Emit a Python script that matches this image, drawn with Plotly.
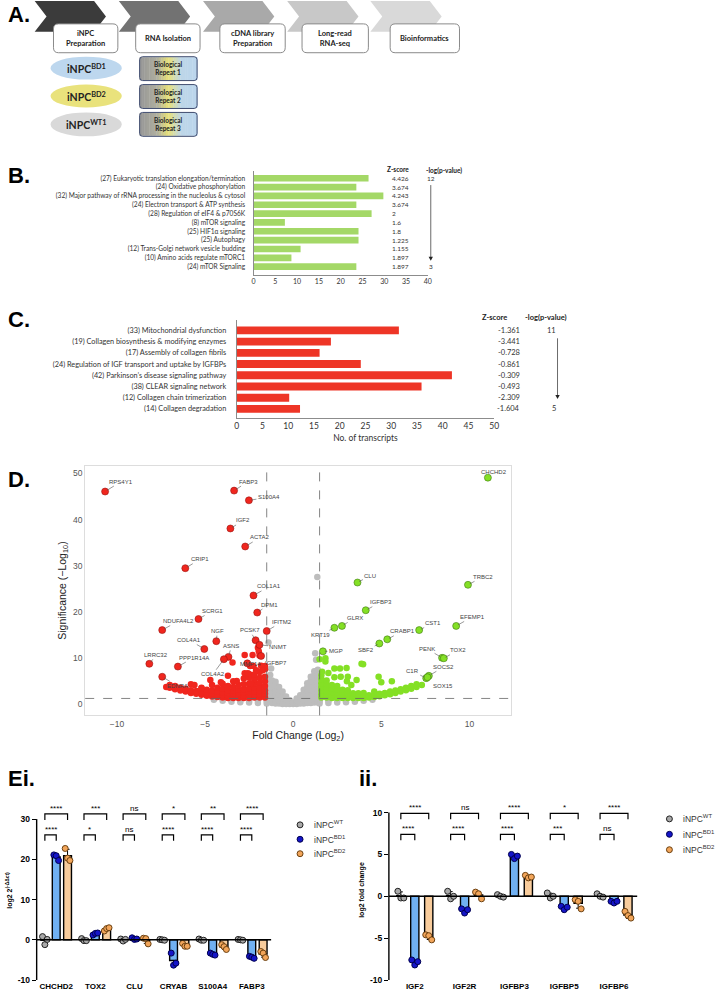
import plotly.graph_objects as go
import numpy as np

W, H = 717, 999
def px(x): return x / W
def py(y): return 1 - y / H

# ---------------- DATA ----------------
steps = ["iNPC<br>Preparation", "RNA Isolation", "cDNA library<br>Preparation", "Long-read<br>RNA-seq", "Bioinformatics"]
cell_lines = ["iNPC<sup>BD1</sup>", "iNPC<sup>BD2</sup>", "iNPC<sup>WT1</sup>"]
repeats = ["Biological<br>Repeat 1", "Biological<br>Repeat 2", "Biological<br>Repeat 3"]

b_labels = ["(27) Eukaryotic translation elongation/termination", "(24) Oxidative phosphorylation",
            "(32) Major pathway of rRNA processing in the nucleolus & cytosol", "(24) Electron transport & ATP synthesis",
            "(28) Regulation of eIF4 & p70S6K", "(8) mTOR signaling", "(25) HIF1α signaling", "(25) Autophagy",
            "(12) Trans-Golgi network vesicle budding", "(10) Amino acids regulate mTORC1", "(24) mTOR Signaling"]
b_counts = [26.4, 23.6, 29.8, 23.6, 27.1, 7.2, 24.1, 24.1, 10.8, 8.7, 23.6]
b_z = ["4.426", "3.674", "4.243", "3.674", "2", "1.6", "1.8", "1.225", "1.155", "1.897", "1.897"]
b_p = ["12", "3"]

c_labels = ["(33) Mitochondrial dysfunction", "(19) Collagen biosynthesis & modifying enzymes",
            "(17) Assembly of collagen fibrils", "(24) Regulation of IGF transport and uptake by IGFBPs",
            "(42) Parkinson’s disease signaling pathway", "(38) CLEAR signaling network",
            "(12) Collagen chain trimerization", "(14) Collagen degradation"]
c_counts = [31.5, 18.3, 16.1, 24.1, 41.8, 35.9, 10.2, 12.3]
c_z = ["-1.361", "-3.441", "-0.728", "-0.861", "-0.309", "-0.493", "-2.309", "-1.604"]
c_p = ["11", "5"]

# volcano: unlabeled points
grey_fc = [-4.5, -4.0, -4.0, -3.5, -3.5, -3.0, -3.0, -2.5, -2.5, -2.0, -2.0, -2.0, -1.5, -1.5, -1.5,
           -1.4, -1.4, -1.4, -1.4, -1.4, -1.4, -1.2, -1.2, -1.2, -1.2, -1.2, -1.2, -1.2,
           -1.0, -1.0, -1.0, -1.0, -1.0, -1.0, -1.0, -0.8, -0.8, -0.8, -0.8, -0.8, -0.8,
           -0.6, -0.6, -0.6, -0.6, -0.6, -0.4, -0.4, -0.4, -0.4, -0.2, -0.2, -0.2, 0.0, 0.0,
           0.2, 0.2, 0.2, 0.2, 0.4, 0.4, 0.4, 0.4, 0.6, 0.6, 0.6, 0.6, 0.6,
           0.8, 0.8, 0.8, 0.8, 0.8, 0.8, 1.0, 1.0, 1.0, 1.0, 1.0, 1.0, 1.0,
           1.2, 1.2, 1.2, 1.2, 1.2, 1.2, 1.2, 1.2, 1.4, 1.4, 1.4, 1.4, 1.4, 1.4, 1.4, 1.4,
           1.5, 1.5, 1.5, 2.0, 2.0, 2.0, 2.5, 2.5, 3.0, 3.0, 3.5, 3.5, 4.0, 4.0, 4.5,
           1.37, 1.25, -1.4, -1.25, 1.3, -1.3]
grey_sig = [1.0, 0.8, 1.2, 0.6, 1.1, 0.5, 1.0, 0.4, 0.9, 0.3, 0.8, 1.2, 0.2, 0.7, 1.1,
            1.6, 2.4, 3.2, 4.0, 4.8, 5.5, 0.3, 1.2, 2.0, 2.8, 3.6, 4.4, 5.2,
            0.2, 1.0, 1.8, 2.6, 3.4, 4.2, 4.9, 0.2, 0.8, 1.5, 2.2, 3.0, 3.8,
            0.1, 0.7, 1.3, 2.0, 2.8, 0.1, 0.6, 1.1, 1.7, 0.1, 0.5, 0.9, 0.1, 0.4,
            0.1, 0.5, 0.9, 1.3, 0.2, 0.7, 1.3, 2.0, 0.2, 0.9, 1.7, 2.5, 3.2,
            0.3, 1.1, 2.0, 2.9, 3.8, 4.6, 0.3, 1.2, 2.2, 3.2, 4.2, 5.2, 6.0,
            0.4, 1.4, 2.4, 3.4, 4.4, 5.4, 6.4, 7.2, 0.4, 1.5, 2.5, 3.5, 4.5, 5.5, 6.5, 7.5,
            0.2, 0.7, 1.1, 0.3, 0.8, 1.2, 0.4, 0.9, 0.5, 1.0, 0.6, 1.1, 0.8, 1.2, 1.0,
            27.6, 11.1, 13.4, 7.8, 9.7, 6.4]

red_fc = [-7.2, -7.0, -7.0, -6.7, -6.7, -6.4, -6.4, -6.1, -6.1, -5.8, -5.8, -5.8, -5.5, -5.5,
          -5.2, -5.2, -5.2, -4.9, -4.9, -4.9, -4.6, -4.6, -4.6, -4.6, -4.3, -4.3, -4.3, -4.3,
          -4.0, -4.0, -4.0, -4.0, -4.0, -3.7, -3.7, -3.7, -3.7, -3.7, -3.4, -3.4, -3.4, -3.4, -3.4, -3.4,
          -3.1, -3.1, -3.1, -3.1, -3.1, -2.8, -2.8, -2.8, -2.8, -2.8, -2.8,
          -2.5, -2.5, -2.5, -2.5, -2.5, -2.5, -2.5, -2.2, -2.2, -2.2, -2.2, -2.2, -2.2, -2.2,
          -1.9, -1.9, -1.9, -1.9, -1.9, -1.9, -1.9, -1.6, -1.6, -1.6, -1.6, -1.6, -1.6, -1.6, -1.6,
          -5.6, -5.2, -4.7, -4.1, -3.7, -3.44, -3.2, -2.75, -2.57, -2.44, -2.25, -2.1, -1.82, -1.74,
          -2.4, -2.3, -1.91, -2.0, -1.95, -2.75]
red_sig = [3.8, 3.6, 4.2, 3.3, 4.0, 3.0, 3.6, 2.8, 3.4, 2.5, 3.1, 4.4, 2.3, 2.9,
           2.1, 2.7, 3.5, 1.9, 2.5, 3.2, 1.7, 2.3, 3.0, 4.2, 1.6, 2.1, 2.8, 3.6,
           1.5, 2.0, 2.6, 3.4, 4.5, 1.4, 1.9, 2.5, 3.1, 4.0, 1.4, 1.8, 2.4, 3.0, 3.8, 5.0,
           1.4, 1.9, 2.5, 3.2, 4.2, 1.4, 1.9, 2.6, 3.3, 4.4, 5.6,
           1.4, 2.0, 2.7, 3.5, 4.5, 5.8, 6.6, 1.5, 2.1, 2.8, 3.6, 4.6, 5.5, 6.5,
           1.5, 2.2, 3.0, 3.8, 4.7, 5.8, 7.0, 1.5, 2.3, 3.1, 4.0, 5.0, 6.0, 7.6, 8.3,
           4.2, 3.6, 5.3, 4.8, 6.2, 9.1, 5.1, 6.75, 6.75, 8.3, 8.3, 7.4, 8.4, 7.4,
           4.6, 10.7, 10.6, 12.3, 11.5, 10.7]

green_fc = [1.6, 1.6, 1.6, 1.6, 1.6, 1.6, 1.6, 1.9, 1.9, 1.9, 1.9, 1.9, 1.9,
            2.2, 2.2, 2.2, 2.2, 2.2, 2.5, 2.5, 2.5, 2.5, 2.5, 2.8, 2.8, 2.8, 2.8,
            3.1, 3.1, 3.1, 3.1, 3.4, 3.4, 3.4, 3.7, 3.7, 3.7, 4.0, 4.0, 4.0, 4.3, 4.3,
            4.6, 4.6, 4.6, 4.9, 4.9, 5.2, 5.2, 5.5, 5.5, 5.8, 5.8, 6.1, 6.1, 6.4, 6.4,
            6.7, 6.7, 7.0, 7.0, 7.3,
            1.5, 1.83, 1.83, 2.34, 2.66, 3.03, 3.88, 3.97, 2.34, 2.7, 1.64, 3.1, 3.6, 3.05,
            4.85, 5.0, 5.6, 3.3, 2.0]
green_sig = [1.5, 2.2, 3.0, 3.8, 4.6, 5.5, 6.3, 1.5, 2.1, 2.8, 3.6, 4.4, 5.2,
             1.4, 2.0, 2.7, 3.4, 4.2, 1.4, 1.9, 2.6, 3.3, 4.0, 1.4, 1.9, 2.5, 3.2,
             1.4, 1.9, 2.5, 3.1, 1.4, 1.9, 2.4, 1.4, 1.8, 2.4, 1.4, 1.9, 2.5, 1.5, 2.0,
             1.6, 2.1, 2.8, 1.8, 2.3, 2.0, 2.5, 2.2, 2.8, 2.5, 3.0, 2.8, 3.3, 3.1, 3.6,
             3.4, 4.0, 3.8, 4.4, 4.2,
             9.8, 10.0, 9.3, 7.8, 7.8, 7.9, 8.8, 8.7, 5.9, 6.0, 7.1, 6.0, 5.3, 5.0,
             6.0, 4.8, 5.0, 4.2, 6.8]

# volcano: labelled genes
lab_genes = ["RPS4Y1", "FABP3", "S100A4", "IGF2", "ACTA2", "CRIP1", "COL1A1", "DPM1", "SCRG1", "NDUFA4L2",
             "IFITM2", "NGF", "PCSK7", "NNMT", "COL4A1", "LRRC32", "PPP1R14A", "ASNS", "COL4A2", "MMP14",
             "IGFBP7", "EDNRA",
             "CHCHD2", "CLU", "TRBC2", "IGFBP3", "GLRX", "KRT19", "CST1", "EFEMP1", "CRABP1", "SBF2", "MGP",
             "PENK", "TOX2", "SOCS2", "C1R", "SOX15"]
lab_fc = [-10.67, -3.35, -2.51, -3.56, -2.72, -6.12, -2.25, -2.04, -5.37, -7.43,
          -1.5, -4.36, -2.13, -1.91, -5.04, -8.16, -6.54, -3.67, -3.93, -2.6,
          -1.82, -7.43,
          11.05, 3.65, 9.92, 4.12, 2.77, 2.34, 7.15, 9.25, 5.34, 4.89, 1.69,
          8.45, 8.55, 7.7, 7.55, 7.62]
lab_sig = [46.1, 46.3, 44.2, 38.1, 34.2, 29.5, 23.6, 19.9, 18.5, 16.1,
           15.9, 13.7, 13.9, 12.9, 12.0, 8.8, 8.2, 10.3, 9.8, 8.9,
           10.5, 6.0,
           49.1, 26.4, 25.9, 20.4, 17.0, 16.6, 16.1, 17.0, 14.1, 13.2, 11.5,
           10.1, 10.0, 6.2, 5.7, 5.9]

# qPCR panels
ei_genes = ["CHCHD2", "TOX2", "CLU", "CRYAB", "S100A4", "FABP3"]
ei_wt = [[0.8, -1.2, 0.1], [0.3, -0.2, -0.2], [0.2, -0.3, 0.1], [0.1, 0.0, -0.1], [0.2, -0.1, -0.1], [0.1, 0.0, -0.1]]
ei_bd1 = [[21.1, 20.9, 19.7], [1.2, 1.6, 1.7], [0.5, 0.1, 0.2], [-3.3, -6.3, -5.8], [-3.3, -3.6, -3.8], [-4.1, -4.3, -4.6]]
ei_bd2 = [[22.7, 20.3, 19.7], [2.2, 2.8, 3.0], [0.4, 0.3, -1.0], [-0.9, -1.6, -1.6], [-1.2, -1.7, -2.4], [-2.9, -3.3, -4.4]]
ei_sig_top = ["****", "***", "ns", "*", "**", "****"]
ei_sig_low = ["****", "*", "ns", "****", "****", "****"]

ii_genes = ["IGF2", "IGF2R", "IGFBP3", "IGFBP5", "IGFBP6"]
ii_wt = [[0.6, -0.2, -0.2], [0.6, -0.3, 0.0], [0.2, 0.0, -0.1], [0.4, -0.2, 0.0], [0.3, 0.0, -0.1]]
ii_bd1 = [[-7.6, -8.2, -7.8], [-1.5, -2.0, -1.6], [5.0, 4.5, 4.8], [-1.2, -1.6, -1.3], [-0.6, -0.8, -0.6]]
ii_bd2 = [[-4.6, -4.7, -5.2], [0.5, 0.3, -0.3], [2.5, 2.2, 2.3], [-0.4, -0.6, -1.5], [-1.8, -2.3, -2.6]]
ii_sig_top = ["****", "ns", "****", "*", "****"]
ii_sig_low = ["****", "****", "****", "***", "ns"]

legend_names = ["iNPC<sup>WT</sup>", "iNPC<sup>BD1</sup>", "iNPC<sup>BD2</sup>"]

# ---------------- FIGURE ----------------
fig = go.Figure()
shapes = []
ann = []
CAL = "Lato"
ARIAL = "Liberation Sans"

def P(xp, yp):
    return f"{px(xp):.5f},{py(yp):.5f}"

def down_arrow(xp, y0, y1):
    shapes.append(dict(type='line', xref='paper', yref='paper', x0=px(xp), x1=px(xp), y0=py(y0), y1=py(y1 - 3),
                       line=dict(color='#444', width=0.8)))
    shapes.append(dict(type='path', xref='paper', yref='paper',
                       path=f"M {P(xp - 2.2, y1 - 4)} L {P(xp + 2.2, y1 - 4)} L {P(xp, y1)} Z",
                       fillcolor='#222', line=dict(width=0)))

# ---- Panel A ----
chev_x0 = [33, 118, 203, 288, 372]
chev_col = ['#3b3b3b', '#727272', '#a9a9a9', '#c8c8c8', '#d9d9d9']
for x0, c in zip(chev_x0, chev_col):
    path = "M " + " L ".join([P(x0, 1), P(x0 + 60, 1), P(x0 + 72, 16.5), P(x0 + 60, 32), P(x0, 32), P(x0 + 12, 16.5)]) + " Z"
    shapes.append(dict(type='path', xref='paper', yref='paper', path=path, fillcolor=c, line=dict(width=0), layer='above'))

def rrect(x0, y0, x1, y1, r):
    return (f"M {P(x0+r,y0)} L {P(x1-r,y0)} Q {P(x1,y0)} {P(x1,y0+r)} L {P(x1,y1-r)} Q {P(x1,y1)} {P(x1-r,y1)} "
            f"L {P(x0+r,y1)} Q {P(x0,y1)} {P(x0,y1-r)} L {P(x0,y0+r)} Q {P(x0,y0)} {P(x0+r,y0)} Z")

box_x = [(52, 117), (135, 200), (220, 286), (303, 370), (392, 462)]
for (x0, x1), t in zip(box_x, steps):
    shapes.append(dict(type='path', xref='paper', yref='paper', path=rrect(x0, 24, x1, 53, 5),
                       fillcolor='white', line=dict(color='#8a8a8a', width=1), layer='above'))
    ann.append(dict(xref='paper', yref='paper', x=px((x0 + x1) / 2), y=py(38.5), text=f"<b>{t}</b>", showarrow=False,
                    font=dict(family=CAL, size=7.5, color='#222'), xanchor='center', yanchor='middle'))

ell_y = [(57, 80), (85, 108), (113, 137)]
ell_c = ['#bdd7ee', '#e9e27c', '#d9d9d9']
for (y0, y1), c, t in zip(ell_y, ell_c, cell_lines):
    shapes.append(dict(type='circle', xref='paper', yref='paper', x0=px(49), x1=px(121), y0=py(y1), y1=py(y0),
                       fillcolor=c, line=dict(width=0), layer='above'))
    ann.append(dict(xref='paper', yref='paper', x=px(85), y=py((y0 + y1) / 2), text=f"<b>{t}</b>", showarrow=False,
                    font=dict(family=CAL, size=10.5, color='#222'), xanchor='center', yanchor='middle'))

stops = [(0.0, (150, 150, 150)), (0.3, (175, 175, 160)), (0.5, (232, 226, 122)), (0.72, (190, 214, 232)), (1.0, (188, 214, 238))]
def grad(t):
    for (t0, c0), (t1, c1) in zip(stops[:-1], stops[1:]):
        if t0 <= t <= t1:
            f = (t - t0) / (t1 - t0)
            return 'rgb(%d,%d,%d)' % tuple(int(a + (b - a) * f) for a, b in zip(c0, c1))
    return 'rgb(188,214,238)'

rep_y = [(57, 81), (85, 109), (113, 137)]
nstrip = 24
for (y0, y1), t in zip(rep_y, repeats):
    bx0, bx1 = 139, 197
    sw = (bx1 - bx0) / nstrip
    for k in range(nstrip):
        shapes.append(dict(type='rect', xref='paper', yref='paper', x0=px(bx0 + k * sw), x1=px(bx0 + (k + 1) * sw + 0.4),
                           y0=py(y1 - 0.5), y1=py(y0 + 0.5), fillcolor=grad((k + 0.5) / nstrip), line=dict(width=0), layer='above'))
    shapes.append(dict(type='path', xref='paper', yref='paper', path=rrect(bx0, y0, bx1, y1, 3),
                       line=dict(color='#3d4a6e', width=1), layer='above'))
    ann.append(dict(xref='paper', yref='paper', x=px(168), y=py((y0 + y1) / 2), text=f"<b>{t}</b>", showarrow=False,
                    font=dict(family=CAL, size=6.5, color='#222'), xanchor='center', yanchor='middle'))

# panel letters
for txt, xx, yy in [("A.", 4, 15), ("B.", 4, 176), ("C.", 4, 321), ("D.", 4, 482), ("Ei.", 4, 782), ("ii.", 358, 782)]:
    ann.append(dict(xref='paper', yref='paper', x=px(xx), y=py(yy), text=f"<b>{txt}</b>", showarrow=False,
                    font=dict(family=ARIAL, size=22, color='black'), xanchor='left', yanchor='middle'))

# ---- Panel B ----
fig.add_trace(go.Bar(x=b_counts, y=list(range(len(b_labels))), orientation='h', width=0.75,
                     marker=dict(color='#a4d867', line=dict(width=0)), xaxis='x', yaxis='y', showlegend=False))
for i, z in enumerate(b_z):
    ann.append(dict(xref='paper', yref='y', x=px(392), y=i, text=z, showarrow=False, xanchor='left', yanchor='middle',
                    font=dict(family=CAL, size=6.5, color='#333')))
ann.append(dict(xref='paper', yref='paper', x=px(400), y=py(165), text="<b>Z-score</b>", showarrow=False,
                font=dict(family=CAL, size=6.5, color='#222')))
ann.append(dict(xref='paper', yref='paper', x=px(446), y=py(165), text="<b>-log(p-value)</b>", showarrow=False,
                font=dict(family=CAL, size=6.5, color='#222')))
ann.append(dict(xref='paper', yref='y', x=px(433), y=0, text=b_p[0], showarrow=False, font=dict(family=CAL, size=6.5, color='#333')))
ann.append(dict(xref='paper', yref='y', x=px(433), y=len(b_labels) - 1, text=b_p[1], showarrow=False, font=dict(family=CAL, size=6.5, color='#333')))
down_arrow(433, 186, 262)

# ---- Panel C ----
fig.add_trace(go.Bar(x=c_counts, y=list(range(len(c_labels))), orientation='h', width=0.7,
                     marker=dict(color='#ee3526', line=dict(width=0)), xaxis='x2', yaxis='y2', showlegend=False))
for i, z in enumerate(c_z):
    ann.append(dict(xref='paper', yref='y2', x=px(525), y=i, text=z, showarrow=False, xanchor='right', yanchor='middle',
                    font=dict(family=CAL, size=7.5, color='#333')))
ann.append(dict(xref='paper', yref='paper', x=px(512), y=py(313), text="<b>Z-score</b>", showarrow=False,
                font=dict(family=CAL, size=7.5, color='#222')))
ann.append(dict(xref='paper', yref='paper', x=px(573), y=py(313), text="<b>-log(p-value)</b>", showarrow=False,
                font=dict(family=CAL, size=7.5, color='#222')))
ann.append(dict(xref='paper', yref='y2', x=px(561), y=0, text=c_p[0], showarrow=False, font=dict(family=CAL, size=7.5, color='#333')))
ann.append(dict(xref='paper', yref='y2', x=px(561), y=len(c_labels) - 1, text=c_p[1], showarrow=False, font=dict(family=CAL, size=7.5, color='#333')))
down_arrow(561, 340, 401)

# ---- Panel D (volcano) ----
fig.add_trace(go.Scatter(x=grey_fc, y=grey_sig, mode='markers', xaxis='x3', yaxis='y3', showlegend=False,
                         marker=dict(color='#bdbdbd', size=6.5, line=dict(width=0))))
fig.add_trace(go.Scatter(x=red_fc, y=red_sig, mode='markers', xaxis='x3', yaxis='y3', showlegend=False,
                         marker=dict(color='#f0261e', size=6.5, line=dict(width=0))))
fig.add_trace(go.Scatter(x=green_fc, y=green_sig, mode='markers', xaxis='x3', yaxis='y3', showlegend=False,
                         marker=dict(color='#84e025', size=6.5, line=dict(width=0))))
lab_col = ['#f0261e' if f < 0 else '#84e025' for f in lab_fc]
lab_edge = ['#9a1410' if f < 0 else '#3f7a10' for f in lab_fc]
fig.add_trace(go.Scatter(x=lab_fc, y=lab_sig, mode='markers', xaxis='x3', yaxis='y3', showlegend=False,
                         marker=dict(color=lab_col, size=7, line=dict(width=0.6, color=lab_edge))))
label_offsets = {
    "RPS4Y1": (16, -10), "FABP3": (14, -9), "S100A4": (20, -3), "IGF2": (13, -8), "ACTA2": (15, -9), "CRIP1": (15, -9),
    "COL1A1": (16, -9), "DPM1": (12, -8), "SCRG1": (14, -8), "NDUFA4L2": (16, -9), "IFITM2": (15, -9), "NGF": (1, -10),
    "PCSK7": (-6, -10), "NNMT": (19, 2), "COL4A1": (-15, -9), "LRRC32": (7, -9), "PPP1R14A": (16, -9), "ASNS": (3, -11),
    "COL4A2": (-11, 15), "MMP14": (3, 1), "IGFBP7": (15, 7), "EDNRA": (15, 9),
    "CHCHD2": (6, -6), "CLU": (13, -7), "TRBC2": (15, -8), "IGFBP3": (15, -8), "GLRX": (13, -8), "KRT19": (-14, 7),
    "CST1": (14, -7), "EFEMP1": (16, -9), "CRABP1": (15, -8), "SBF2": (-13, 7), "MGP": (13, 0),
    "PENK": (-15, -9), "TOX2": (14, -8), "SOCS2": (15, -9), "C1R": (-14, -7), "SOX15": (16, 9)}
for g, f, s in zip(lab_genes, lab_fc, lab_sig):
    ax_, ay_ = label_offsets[g]
    ann.append(dict(xref='x3', yref='y3', x=f, y=s, text=g, showarrow=True, arrowhead=0, arrowwidth=0.6,
                    arrowcolor='#555', ax=ax_, ay=ay_, standoff=2,
                    font=dict(family=ARIAL, size=6, color='#444')))
for xv in (-1.5, 1.5):
    shapes.append(dict(type='line', xref='x3', yref='y3 domain', x0=xv, x1=xv, y0=0, y1=1,
                       line=dict(color='#666', width=0.8, dash='dash')))
shapes.append(dict(type='line', xref='x3 domain', yref='y3', x0=0, x1=1, y0=1.3, y1=1.3,
                   line=dict(color='#666', width=0.8, dash='dash')))

# ---- Panels E ----
def e_panel(genes, wt, bd1, bd2, sig_top, sig_low, xa, ya, off, bw, dx, ytop, ylow, leg, star_up, yaxis_top, xr):
    groups = [(wt, 'white', '#a9a9a9', '#222', -off), (bd1, '#70b0f2', '#1515c8', '#000050', 0.0),
              (bd2, '#f8cc9c', '#f2a55a', '#6b4010', off)]
    n = len(genes)
    for pts, bcol, pcol, pedge, o in groups:
        xs = [i + o for i in range(n)]
        means = [float(np.mean(p)) for p in pts]
        sds = [float(np.std(p, ddof=1)) for p in pts]
        fig.add_trace(go.Bar(x=xs, y=means, width=bw, xaxis=xa, yaxis=ya, showlegend=False,
                             marker=dict(color=bcol, line=dict(color='black', width=1.4)),
                             error_y=dict(type='data', array=[s if m > 0 else 0 for m, s in zip(means, sds)],
                                          arrayminus=[s if m < 0 else 0 for m, s in zip(means, sds)],
                                          color='black', thickness=1, width=2)))
    for pts, bcol, pcol, pedge, o in groups:
        xs, ys = [], []
        for i, p in enumerate(pts):
            for k, v in enumerate(p):
                xs.append(i + o + dx[k])
                ys.append(v)
        fig.add_trace(go.Scatter(x=xs, y=ys, mode='markers', xaxis=xa, yaxis=ya, showlegend=False,
                                 marker=dict(color=pcol, size=6, line=dict(color=pedge, width=1))))
    for i in range(n):
        x0, x1 = i - off, i + off
        shapes.append(dict(type='path', xref=xa, yref=ya, line=dict(color='black', width=1.2),
                           path=f"M {x0},{ytop[0]} L {x0},{ytop[1]} L {x1},{ytop[1]} L {x1},{ytop[0]}"))
        shapes.append(dict(type='path', xref=xa, yref=ya, line=dict(color='black', width=1.2),
                           path=f"M {x0},{ylow[0]} L {x0},{ylow[1]} L {i},{ylow[1]} L {i},{ylow[0]}"))
        ann.append(dict(xref=xa, yref=ya, x=i, y=ytop[1] + star_up, text=sig_top[i], showarrow=False,
                        font=dict(family=ARIAL, size=8, color='black'), yanchor='middle'))
        ann.append(dict(xref=xa, yref=ya, x=(x0 + i) / 2, y=ylow[1] + star_up, text=sig_low[i], showarrow=False,
                        font=dict(family=ARIAL, size=8, color='black'), yanchor='middle'))
    shapes.append(dict(type='line', xref=xa, yref=ya, x0=xr[0], x1=xr[1], y0=0, y1=0, line=dict(color='black', width=1.4)))
    shapes.append(dict(type='line', xref=xa + ' domain', yref=ya, x0=0, x1=0, y0=-10, y1=yaxis_top,
                       line=dict(color='black', width=1.4)))
    # legend
    lx, ly0, dy = leg
    cols = [('#a9a9a9', '#222'), ('#1515c8', '#000050'), ('#f2a55a', '#6b4010')]
    for k, (name, (fc, ec)) in enumerate(zip(legend_names, cols)):
        yy = ly0 + k * dy
        shapes.append(dict(type='circle', xref='paper', yref='paper', x0=px(lx - 3), x1=px(lx + 3), y0=py(yy + 3), y1=py(yy - 3),
                           fillcolor=fc, line=dict(color=ec, width=1)))
        ann.append(dict(xref='paper', yref='paper', x=px(lx + 12), y=py(yy), text=name, showarrow=False, xanchor='left',
                        yanchor='middle', font=dict(family=ARIAL, size=8.5, color='#333')))

ei_xr = [-0.5, 5.5]
ii_xr = [-0.52, 4.47]
e_panel(ei_genes, ei_wt, ei_bd1, ei_bd2, ei_sig_top, ei_sig_low, 'x4', 'y4', 0.29, 0.2, [-0.06, 0.0, 0.06],
        (29.8, 31.3), (24.6, 26.1), (301, 829, 14.5), 1.4, 30, ei_xr)
e_panel(ii_genes, ii_wt, ii_bd1, ii_bd2, ii_sig_top, ii_sig_low, 'x5', 'y5', 0.28, 0.165, [-0.06, 0.0, 0.06],
        (9.2, 9.9), (6.7, 7.4), (674, 823, 15.5), 0.65, 10, ii_xr)

axis_font_e = dict(family=ARIAL, size=8.5, color='black')
fig.update_layout(
    width=W, height=H, margin=dict(l=0, r=0, t=0, b=0), paper_bgcolor='white', plot_bgcolor='white',
    barmode='overlay', showlegend=False, shapes=shapes, annotations=ann,
    xaxis=dict(domain=[px(254), px(430)], range=[0, 40], tickvals=list(range(0, 41, 5)), anchor='y',
               showline=True, linecolor='#8c8c8c', linewidth=1, ticks='', showgrid=False, zeroline=False,
               tickfont=dict(family=CAL, size=7, color='#333')),
    yaxis=dict(domain=[py(276), py(172)], range=[10.9, -0.8], tickvals=list(range(len(b_labels))), ticktext=b_labels,
               anchor='x', showline=True, linecolor='#8c8c8c', linewidth=1, ticks='', showgrid=False, zeroline=False,
               ticklabelstandoff=6, tickfont=dict(family=CAL, size=6.6, color='#333')),
    xaxis2=dict(domain=[px(237), px(497)], range=[0, 50], tickvals=list(range(0, 51, 5)), anchor='y2',
                showline=True, linecolor='#8c8c8c', linewidth=1, ticks='', showgrid=False, zeroline=False,
                tickfont=dict(family=CAL, size=8.5, color='#333'),
                title=dict(text="No. of transcripts", font=dict(family=CAL, size=8.5, color='#333'), standoff=4)),
    yaxis2=dict(domain=[py(420), py(322)], range=[7.8, -0.89], tickvals=list(range(len(c_labels))), ticktext=c_labels,
                anchor='x2', showline=True, linecolor='#8c8c8c', linewidth=1, ticks='', showgrid=False, zeroline=False,
                ticklabelstandoff=8, tickfont=dict(family=CAL, size=7.3, color='#333')),
    xaxis3=dict(domain=[px(84), px(514)], range=[-11.8, 12.36], tickvals=[-10, -5, 0, 5, 10], anchor='y3',
                showline=True, mirror=True, linecolor='#dddddd', linewidth=1.2, ticks='', showgrid=False, zeroline=False,
                tickfont=dict(family=ARIAL, size=8.5, color='#555'),
                title=dict(text="Fold Change (Log<sub>2</sub>)", font=dict(family=ARIAL, size=10.5, color='#222'), standoff=2)),
    yaxis3=dict(domain=[py(719), py(468)], range=[-2.37, 51.7], tickvals=[0, 10, 20, 30, 40, 50], anchor='x3',
                showline=True, mirror=True, linecolor='#dddddd', linewidth=1.2, ticks='', showgrid=False, zeroline=False,
                tickfont=dict(family=ARIAL, size=8.5, color='#555'),
                title=dict(text="Significance (−Log<sub>10</sub>)", font=dict(family=ARIAL, size=10.5, color='#222'), standoff=4)),
    xaxis4=dict(domain=[px(35), px(272)], range=ei_xr, tickvals=list(range(len(ei_genes))),
                ticktext=[f"<b>{g}</b>" for g in ei_genes], anchor='y4', showline=False, ticks='', showgrid=False,
                zeroline=False, tickfont=dict(family=ARIAL, size=8, color='black')),
    yaxis4=dict(domain=[py(985), py(805)], range=[-10, 34.5], tickvals=[-10, 0, 10, 20, 30],
                ticktext=["<b>-10</b>", "<b>0</b>", "<b>10</b>", "<b>20</b>", "<b>30</b>"], anchor='x4',
                showline=False, ticks='outside', ticklen=4, tickwidth=1.3, tickcolor='black', showgrid=False,
                zeroline=False, tickfont=axis_font_e,
                title=dict(text="<b>log2 2<sup>(-ΔΔct)</sup></b>", font=dict(family=ARIAL, size=7, color='black'), standoff=4)),
    xaxis5=dict(domain=[px(390.7), px(641.7)], range=ii_xr, tickvals=list(range(len(ii_genes))),
                ticktext=[f"<b>{g}</b>" for g in ii_genes], anchor='y5', showline=False, ticks='', showgrid=False,
                zeroline=False, tickfont=dict(family=ARIAL, size=8, color='black')),
    yaxis5=dict(domain=[py(985), py(804)], range=[-10, 11.5], tickvals=[-10, -5, 0, 5, 10],
                ticktext=["<b>-10</b>", "<b>-5</b>", "<b>0</b>", "<b>5</b>", "<b>10</b>"], anchor='x5',
                showline=False, ticks='outside', ticklen=4, tickwidth=1.3, tickcolor='black', showgrid=False,
                zeroline=False, tickfont=axis_font_e,
                title=dict(text="<b>log2 fold change</b>", font=dict(family=ARIAL, size=7, color='black'), standoff=4)),
)

fig.write_html("out.html")
